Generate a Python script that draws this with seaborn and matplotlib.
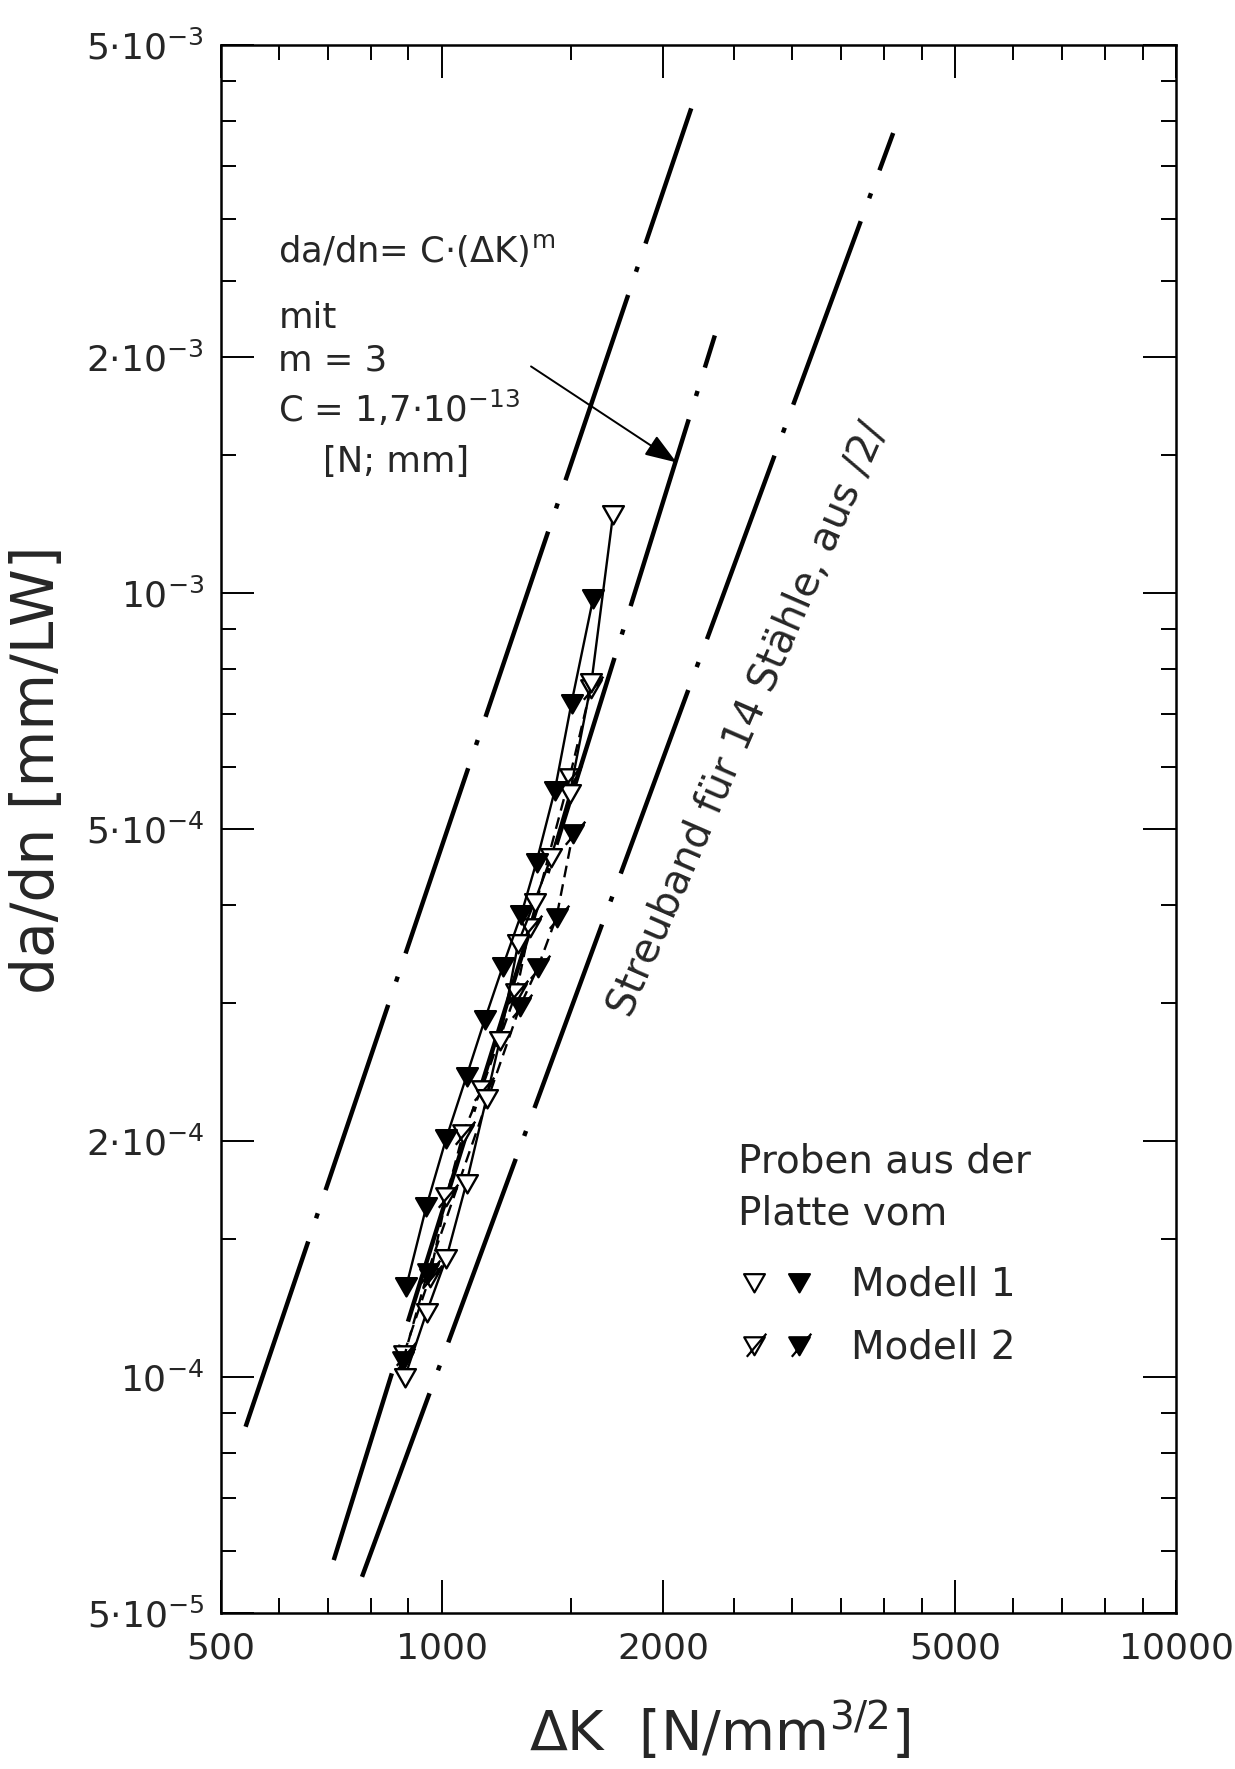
import numpy as np
import pandas as pd
import matplotlib
matplotlib.use("Agg")
import matplotlib.pyplot as plt
import seaborn as sns
from matplotlib.path import Path
from matplotlib.lines import Line2D
from matplotlib.legend_handler import HandlerTuple
from matplotlib.ticker import FixedLocator, NullFormatter, FixedFormatter

# ---------------- data ----------------
m1_open_K = [890, 953, 1014, 1080, 1150, 1199, 1270, 1337, 1409, 1493, 1598, 1710]
m1_open_v = [1.00e-4, 1.21e-4, 1.42e-4, 1.77e-4, 2.27e-4, 2.69e-4, 3.58e-4,
             4.04e-4, 4.61e-4, 5.55e-4, 7.70e-4, 1.26e-3]

m1_fill_K = [894, 952, 1014, 1080, 1144, 1210, 1283, 1345, 1425, 1501, 1607]
m1_fill_v = [1.305e-4, 1.65e-4, 2.02e-4, 2.42e-4, 2.86e-4, 3.34e-4, 3.90e-4,
             4.54e-4, 5.61e-4, 7.24e-4, 9.86e-4]

m2_open_K = [887, 962, 1014, 1069, 1132, 1263, 1317, 1493, 1595]
m2_open_v = [1.07e-4, 1.34e-4, 1.70e-4, 2.05e-4, 2.33e-4, 3.10e-4, 3.75e-4,
             5.83e-4, 7.56e-4]

m2_fill_K = [885, 956, 1277, 1351, 1432, 1508]
m2_fill_v = [1.05e-4, 1.36e-4, 2.97e-4, 3.33e-4, 3.86e-4, 4.94e-4]

band_upper_K = [540, 2185]
band_upper_v = [8.64e-5, 4.15e-3]
paris_K = [712, 2353]
paris_v = [5.84e-5, 2.13e-3]
band_lower_K = [778, 4117]
band_lower_v = [5.56e-5, 3.86e-3]

arrow_from = (1322, 1.945e-3)
arrow_to = (2087, 1.467e-3)

x_major = [500, 1000, 2000, 5000, 10000]
x_major_labels = ["500", "1000", "2000", "5000", "10000"]
x_minor = [600, 700, 800, 900, 1500, 2500, 3000, 3500, 4000, 4500,
           6000, 7000, 8000, 9000]
y_major = [5e-5, 1e-4, 2e-4, 5e-4, 1e-3, 2e-3, 5e-3]
y_major_labels = [r"$5{\cdot}10^{-5}$", r"$10^{-4}$", r"$2{\cdot}10^{-4}$",
                  r"$5{\cdot}10^{-4}$", r"$10^{-3}$", r"$2{\cdot}10^{-3}$",
                  r"$5{\cdot}10^{-3}$"]
y_minor = [4.5e-3, 4e-3, 3.5e-3, 3e-3, 2.5e-3, 1.5e-3, 9e-4, 8e-4, 7e-4, 6e-4,
           4e-4, 3e-4, 1.5e-4, 9e-5, 8e-5, 7e-5, 6e-5]

# ---------------- style ----------------
sns.set_style("ticks")
plt.rcParams["font.family"] = ["DejaVu Sans"]
plt.rcParams["mathtext.fontset"] = "dejavusans"
plt.rcParams["mathtext.default"] = "regular"

fig = plt.figure(figsize=(12.35, 17.69), dpi=100)
ax = fig.add_axes([0.179, 0.0882, 0.7733, 0.8864])

# marker shapes
tri = Path([(-1, 0.8), (1, 0.8), (0, -0.95), (-1, 0.8)],
           [Path.MOVETO, Path.LINETO, Path.LINETO, Path.CLOSEPOLY])
tri_slash = Path([(-1, 0.8), (1, 0.8), (0, -0.95), (-1, 0.8), (-0.75, -1.1), (1.15, 1.15)],
                 [Path.MOVETO, Path.LINETO, Path.LINETO, Path.CLOSEPOLY,
                  Path.MOVETO, Path.LINETO])

band_ls = (0, (44, 5.5, 1.2, 5.5))
band_lw = 3.2

for K, v in [(band_upper_K, band_upper_v), (paris_K, paris_v), (band_lower_K, band_lower_v)]:
    sns.lineplot(x=K, y=v, ax=ax, color="black", lw=band_lw, linestyle=band_ls,
                 estimator=None, sort=False, zorder=2)

series = [
    (m2_open_K, m2_open_v, tri_slash, "white", (0, (5, 3)), 17),
    (m2_fill_K, m2_fill_v, tri_slash, "black", (0, (5, 3)), 17),
    (m1_open_K, m1_open_v, tri, "white", "-", 15),
    (m1_fill_K, m1_fill_v, tri, "black", "-", 15),
]
for K, v, mk, fc, ls, ms in series:
    sns.lineplot(x=K, y=v, ax=ax, color="black", lw=1.7, linestyle=ls,
                 marker=mk, markersize=ms, markerfacecolor=fc,
                 markeredgecolor="black", markeredgewidth=1.7,
                 estimator=None, sort=False, zorder=3)

ax.set_xscale("log")
ax.set_yscale("log")
ax.set_xlim(500, 10000)
ax.set_ylim(5e-5, 5e-3)

ax.xaxis.set_major_locator(FixedLocator(x_major))
ax.xaxis.set_major_formatter(FixedFormatter(x_major_labels))
ax.xaxis.set_minor_locator(FixedLocator(x_minor))
ax.xaxis.set_minor_formatter(NullFormatter())
ax.yaxis.set_major_locator(FixedLocator(y_major))
ax.yaxis.set_major_formatter(FixedFormatter(y_major_labels))
ax.yaxis.set_minor_locator(FixedLocator(y_minor))
ax.yaxis.set_minor_formatter(NullFormatter())

ax.tick_params(which="both", direction="in", top=True, right=True, color="black",
               width=1.4)
ax.tick_params(which="major", length=24, labelsize=26)
ax.tick_params(which="minor", length=11)
ax.tick_params(axis="x", which="major", pad=13)
ax.tick_params(axis="y", which="major", pad=12)
for s in ax.spines.values():
    s.set_linewidth(1.8)
    s.set_color("black")
    s.set_visible(True)

ax.set_xlabel("")
ax.set_ylabel("")
fig.text(0.583, 0.021, r"ΔK  [N/mm$^{3/2}$]", fontsize=40, ha="center", va="center")
fig.text(0.030, 0.565, "da/dn [mm/LW]", fontsize=42, rotation=90,
         ha="center", va="center")

# formula annotation
fs_ann = 25.5
ax.text(0.060, 0.869, r"da/dn= C$\cdot$(ΔK)$^{\mathregular{m}}$", transform=ax.transAxes,
        fontsize=fs_ann, ha="left", va="center")
ax.text(0.060, 0.826, "mit", transform=ax.transAxes, fontsize=fs_ann, ha="left", va="center")
ax.text(0.060, 0.799, "m = 3", transform=ax.transAxes, fontsize=fs_ann, ha="left", va="center")
ax.text(0.060, 0.768, r"C = 1,7$\cdot$10$^{-13}$", transform=ax.transAxes,
        fontsize=fs_ann, ha="left", va="center")
ax.text(0.107, 0.734, "[N; mm]", transform=ax.transAxes, fontsize=fs_ann,
        ha="left", va="center")
ax.annotate("", xy=arrow_to, xytext=arrow_from,
            arrowprops=dict(arrowstyle="-|>,head_length=0.7,head_width=0.25", lw=1.4,
                            color="black", mutation_scale=28, shrinkA=0, shrinkB=0))

ax.text(0.5525, 0.5698, "Streuband für 14 Stähle, aus /2/", transform=ax.transAxes,
        fontsize=29, rotation=66.5, rotation_mode="anchor", ha="center", va="center")

# legend
h_o = Line2D([], [], ls="none", marker=tri, markersize=15, markerfacecolor="white",
             markeredgecolor="black", markeredgewidth=1.6)
h_f = Line2D([], [], ls="none", marker=tri, markersize=15, markerfacecolor="black",
             markeredgecolor="black", markeredgewidth=1.6)
h_os = Line2D([], [], ls="none", marker=tri_slash, markersize=17, markerfacecolor="white",
              markeredgecolor="black", markeredgewidth=1.6)
h_fs = Line2D([], [], ls="none", marker=tri_slash, markersize=17, markerfacecolor="black",
              markeredgecolor="black", markeredgewidth=1.6)
leg = ax.legend([(h_o, h_f), (h_os, h_fs)], ["Modell 1", "Modell 2"],
                handler_map={tuple: HandlerTuple(ndivide=None, pad=0.35)},
                title="Proben aus der\nPlatte vom", title_fontsize=28, fontsize=28,
                loc="upper left", bbox_to_anchor=(0.541, 0.300), frameon=False,
                borderpad=0, borderaxespad=0, handlelength=2.0, handletextpad=0.9,
                labelspacing=0.65, alignment="left")
leg.get_title().set_linespacing(1.45)
leg._legend_box.sep = 24

fig.savefig("out.png", dpi=100, facecolor="white")
